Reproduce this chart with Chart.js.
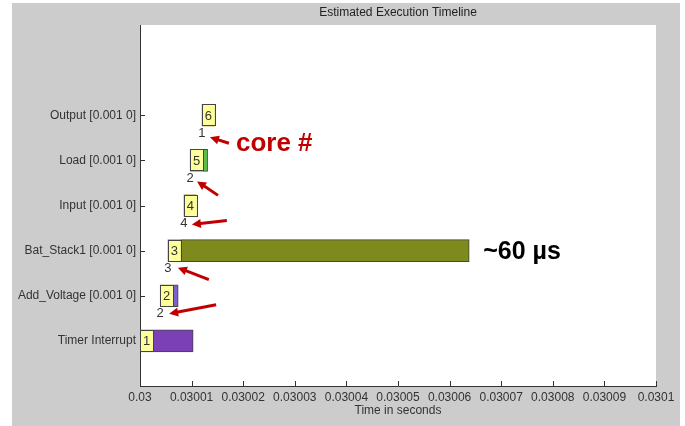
<!DOCTYPE html>
<html>
<head>
<meta charset="utf-8">
<title>Estimated Execution Timeline</title>
<script src="https://cdn.jsdelivr.net/npm/chart.js"></script>
<style>
	html, body { margin: 0; padding: 0; background: #ffffff; }
	canvas { display: block; }
</style>
</head>
<body>
<canvas id="timeline" width="685" height="426"></canvas>
<script>
// tasks, bottom to top
var tasks = [
	"Timer Interrupt",
	"Add_Voltage [0.001 0]",
	"Bat_Stack1 [0.001 0]",
	"Input [0.001 0]",
	"Load [0.001 0]",
	"Output [0.001 0]",
];
var startTimes = [0.03, 0.0300039, 0.0300054, 0.0300085, 0.0300097, 0.030012];
var endTimes = [0.0300103, 0.0300074, 0.0300638, 0.0300109, 0.0300131, 0.0300145];
var execOrder = [1, 2, 3, 4, 5, 6];
var coreNums = [null, 2, 3, 4, 2, 1];
var barColors = ["#7b3fb6", "#7c5fd0", "#7f8a1c", "#e0e060", "#5cbf4a", "#4fa3d9"];

var xTicks = [0.03, 0.03001, 0.03002, 0.03003, 0.03004, 0.03005, 0.03006, 0.03007, 0.03008, 0.03009, 0.0301];
var xTickLabels = ["0.03", "0.03001", "0.03002", "0.03003", "0.03004", "0.03005", "0.03006", "0.03007", "0.03008", "0.03009", "0.0301"];

// category rows top to bottom, with empty rows for the margins
var yRows = ["", " "].concat(tasks.slice().reverse()).concat(["  "]);

var FONT = "'Liberation Sans', Arial, sans-serif";
var RED = "#c00000";

// arrow from the core label: head and tail offsets, per task
var arrows = [
	null,
	{ head: [9, 0], tail: [56, -9] },
	{ head: [10, -1], tail: [41, 11] },
	{ head: [8, 1], tail: [43, -3] },
	{ head: [7, 3], tail: [28, 17] },
	{ head: [8, 4], tail: [27, 10] },
];

function drawArrow(ctx, x1, y1, x2, y2) {
	var ang = Math.atan2(y2 - y1, x2 - x1);
	var len = 9;
	ctx.save();
	ctx.strokeStyle = RED;
	ctx.fillStyle = RED;
	ctx.lineWidth = 3;
	ctx.beginPath();
	ctx.moveTo(x1, y1);
	ctx.lineTo(x2 - Math.cos(ang) * len * 0.7, y2 - Math.sin(ang) * len * 0.7);
	ctx.stroke();
	ctx.beginPath();
	ctx.moveTo(x2, y2);
	ctx.lineTo(x2 - len * Math.cos(ang) + 4.5 * Math.sin(ang), y2 - len * Math.sin(ang) - 4.5 * Math.cos(ang));
	ctx.lineTo(x2 - len * Math.cos(ang) - 4.5 * Math.sin(ang), y2 - len * Math.sin(ang) + 4.5 * Math.cos(ang));
	ctx.closePath();
	ctx.fill();
	ctx.restore();
}

var backdrop = {
	id: "backdrop",
	beforeDraw: function (chart) {
		var ctx = chart.ctx;
		var a = chart.chartArea;
		ctx.save();
		ctx.fillStyle = "#ffffff";
		ctx.fillRect(0, 0, chart.width, chart.height);
		ctx.fillStyle = "#cccccc";
		ctx.fillRect(12, 3, 668, chart.height - 3);
		ctx.fillStyle = "#ffffff";
		ctx.fillRect(a.left, a.top, a.right - a.left, a.bottom - a.top);
		// title centred over the axes
		ctx.fillStyle = "#222222";
		ctx.font = "12px " + FONT;
		ctx.textAlign = "center";
		ctx.textBaseline = "middle";
		ctx.fillText("Estimated Execution Timeline", (a.left + a.right) / 2, 13);
		ctx.restore();
	},
	beforeDatasetsDraw: function (chart) {
		// inward tick marks
		var ctx = chart.ctx;
		var xs = chart.scales.x;
		var ys = chart.scales.y;
		var a = chart.chartArea;
		ctx.save();
		ctx.strokeStyle = "#333333";
		ctx.lineWidth = 1;
		ctx.beginPath();
		xTicks.forEach(function (v) {
			var px = Math.round(xs.getPixelForValue(v)) + 0.5;
			ctx.moveTo(px, a.bottom);
			ctx.lineTo(px, a.bottom - 5);
		});
		yRows.forEach(function (lbl, i) {
			if (lbl.trim() === "") return;
			var py = Math.round(ys.getPixelForValue(i)) + 0.5;
			ctx.moveTo(a.left, py);
			ctx.lineTo(a.left + 5, py);
		});
		ctx.stroke();
		ctx.restore();
	},
	afterDatasetsDraw: function (chart) {
		var ctx = chart.ctx;
		var bars = chart.getDatasetMeta(0).data;
		ctx.save();
		bars.forEach(function (bar, i) {
			var p = bar.getProps(["x", "y", "base", "height"], true);
			var left = Math.min(p.x, p.base);
			var top = p.y - p.height / 2;
			// order box at the start of each bar
			ctx.fillStyle = "#ffff99";
			ctx.fillRect(left, top, 13, p.height);
			ctx.strokeStyle = "#444444";
			ctx.lineWidth = 1;
			ctx.strokeRect(Math.round(left) + 0.5, Math.round(top) + 0.5, 13, Math.round(p.height) - 1);
			ctx.fillStyle = "#333333";
			ctx.font = "13px " + FONT;
			ctx.textAlign = "center";
			ctx.textBaseline = "middle";
			ctx.fillText(String(execOrder[i]), left + 6.5, p.y + 1);

			if (coreNums[i] === null) return;
			var cx = left;
			var cy = p.y + 18;
			ctx.fillStyle = "#333333";
			ctx.fillText(String(coreNums[i]), cx, cy);
			var ar = arrows[i];
			drawArrow(ctx, cx + ar.tail[0], cy + ar.tail[1], cx + ar.head[0], cy + ar.head[1]);
			if (execOrder[i] === 6) {
				ctx.fillStyle = RED;
				ctx.font = "bold 26px " + FONT;
				ctx.textAlign = "left";
				ctx.fillText("core #", cx + ar.tail[0] + 7, cy + ar.tail[1] + 1);
				ctx.textAlign = "center";
			}
		});
		// duration note beside the longest bar
		var longest = 0;
		endTimes.forEach(function (e, i) {
			if (e - startTimes[i] > endTimes[longest] - startTimes[longest]) longest = i;
		});
		var lb = bars[longest].getProps(["x", "y"], true);
		ctx.fillStyle = "#000000";
		ctx.font = "bold 25px " + FONT;
		ctx.textAlign = "left";
		ctx.textBaseline = "middle";
		ctx.fillText("~60 \u00b5s", lb.x + 14, lb.y + 1);
		ctx.restore();
	},
};

var ctx = document.getElementById("timeline").getContext("2d");
var chart = new Chart(ctx, {
	type: "bar",
	data: {
		labels: yRows,
		datasets: [
			{
				data: tasks.map(function (t, i) {
					return { y: t, x: [startTimes[i], endTimes[i]] };
				}),
				backgroundColor: barColors,
				borderColor: "#444444",
				borderWidth: 1,
				borderSkipped: false,
				barThickness: 22,
			},
		],
	},
	options: {
		indexAxis: "y",
		responsive: false,
		animation: false,
		layout: {
			padding: { left: 0, right: 29, top: 25, bottom: 0 },
		},
		plugins: {
			legend: { display: false },
			tooltip: { enabled: false },
		},
		scales: {
			x: {
				type: "linear",
				min: 0.03,
				max: 0.0301,
				afterBuildTicks: function (scale) {
					scale.ticks = xTicks.map(function (v) {
						return { value: v };
					});
				},
				afterFit: function (scale) {
					scale.height = 40;
				},
				grid: { drawOnChartArea: false, drawTicks: false },
				border: { display: true, color: "#333333", width: 1 },
				ticks: {
					autoSkip: false,
					maxRotation: 0,
					padding: 4,
					color: "#333333",
					font: { family: FONT, size: 12 },
					callback: function (value, index) {
						return xTickLabels[index];
					},
				},
				title: {
					display: true,
					text: "Time in seconds",
					color: "#333333",
					font: { family: FONT, size: 12 },
					padding: { top: 0, bottom: 8 },
				},
			},
			y: {
				type: "category",
				offset: false,
				afterFit: function (scale) {
					scale.width = 140;
				},
				grid: { drawOnChartArea: false, drawTicks: false },
				border: { display: true, color: "#333333", width: 1 },
				ticks: {
					autoSkip: false,
					padding: 4,
					color: "#333333",
					font: { family: FONT, size: 12 },
				},
			},
		},
	},
	plugins: [backdrop],
});
</script>
</body>
</html>
